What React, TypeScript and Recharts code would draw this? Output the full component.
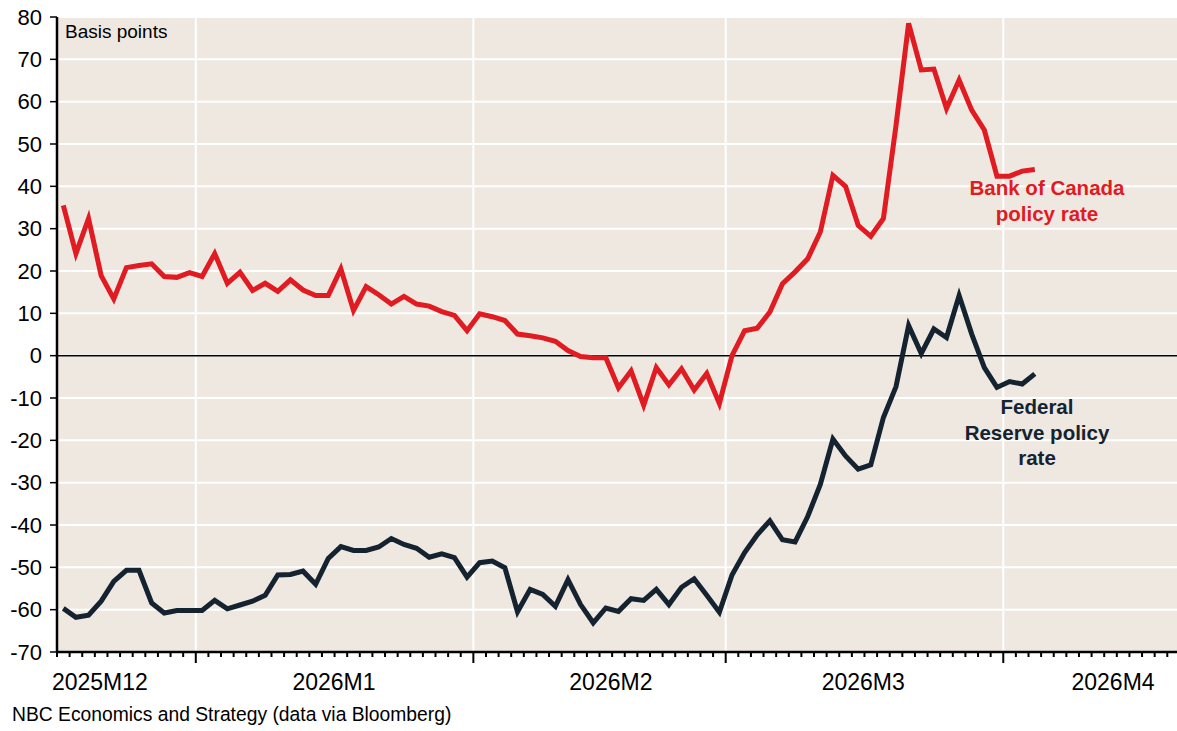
import { LineChart, Line, XAxis, YAxis, CartesianGrid, ReferenceLine } from 'recharts'

// business-day index, 0 = 2025-12-17 ... 77 = 2026-04-03
const bocSpread = [
  35.5, 24.1, 32.4, 18.9, 13.4, 20.8, 21.3, 21.7, 18.7, 18.5,
  19.6, 18.7, 24.1, 17.1, 19.7, 15.4, 17.1, 15.2, 17.9, 15.5,
  14.2, 14.2, 20.5, 10.7, 16.3, 14.4, 12.2, 14.0, 12.2, 11.7,
  10.4, 9.5, 5.9, 9.9, 9.2, 8.3, 5.1, 4.7, 4.2, 3.4,
  1.2, -0.2, -0.5, -0.5, -7.6, -3.6, -11.7, -2.8, -6.9, -3.1,
  -8.1, -4.2, -11.3, 0, 5.9, 6.5, 10.3, 17, 19.8, 22.9,
  29.2, 42.6, 40, 30.8, 28.2, 32.4, 54.4, 78.5, 67.5, 67.7,
  58.4, 65.1, 58, 53.3, 42.4, 42.4, 43.6, 44,
]

const fedSpread = [
  -59.7, -61.8, -61.3, -58, -53.3, -50.7, -50.7, -58.4, -60.8, -60.2,
  -60.2, -60.2, -57.8, -59.8, -58.9, -58, -56.6, -51.8, -51.7, -50.9,
  -54, -47.9, -45.1, -46, -46, -45.2, -43.2, -44.6, -45.5, -47.6,
  -46.8, -47.7, -52.3, -48.9, -48.5, -50.1, -60.5, -55.2, -56.4, -59.2,
  -52.9, -58.8, -63.1, -59.6, -60.4, -57.4, -57.8, -55.2, -58.8, -54.7,
  -52.7, -56.6, -60.6, -51.8, -46.5, -42.3, -39, -43.5, -44, -38,
  -30.4, -19.7, -23.7, -26.8, -25.8, -14.6, -7.3, 7.1, 0.5, 6.3,
  4.3, 14.2, 5.1, -2.8, -7.5, -6.1, -6.7, -4.3,
]

const monthLabels = ['2025M12', '2026M1', '2026M2', '2026M3', '2026M4']
const monthLabelAt = [2.9, 21.45, 43.4, 63.4, 83.2]
const monthBoundaries = [10.5, 32.5, 52.5, 74.5]
const yTicks = [-70, -60, -50, -40, -30, -20, -10, 0, 10, 20, 30, 40, 50, 60, 70, 80]

const RED = '#e11b22'
const NAVY = '#14232f'
const BG = '#eee8e1'
const FONT = '"Liberation Sans", Arial, sans-serif'

const data = bocSpread.map((v, i) => ({ i, boc: v, fed: fedSpread[i] }))
const dayTicks = Array.from({ length: 89 }, (_, k) => k - 0.5)

function XTick(props: any) {
  const { x, y, payload } = props
  const li = monthLabelAt.indexOf(payload.value)
  if (li >= 0) {
    return (
      <text x={x} y={y + 38} textAnchor="middle" fontSize={23} fill="#000" fontFamily={FONT}>
        {monthLabels[li]}
      </text>
    )
  }
  const major = monthBoundaries.includes(payload.value)
  return <line x1={x} x2={x} y1={y} y2={y + (major ? 11 : 5)} stroke="#000" strokeWidth={2} />
}

export default function App() {
  return (
    <div style={{ position: 'absolute', left: 0, top: 0, width: 1177, height: 731, background: '#fff', fontFamily: FONT }}>
      <LineChart width={1177} height={731} data={data} margin={{ top: 17, right: 0, bottom: 0, left: 0 }}>
        <CartesianGrid vertical={false} stroke="#fff" strokeWidth={2} fill={BG} fillOpacity={1} />
        {monthBoundaries.map((b) => (
          <ReferenceLine key={b} x={b} stroke="#fff" strokeWidth={2} />
        ))}
        <ReferenceLine y={0} stroke="#000" strokeWidth={1.5} />
        <XAxis
          dataKey="i"
          type="number"
          domain={[-0.5, 88.27]}
          ticks={[...dayTicks, ...monthLabelAt]}
          interval={0}
          tick={<XTick />}
          tickLine={false}
          tickSize={0}
          tickMargin={0}
          axisLine={{ stroke: '#000', strokeWidth: 2.5 }}
          height={79}
        />
        <YAxis
          type="number"
          domain={[-70, 80]}
          ticks={yTicks}
          interval={0}
          width={57}
          tickSize={7}
          tickMargin={8}
          tickLine={{ stroke: '#000', strokeWidth: 1.5 }}
          axisLine={{ stroke: '#000', strokeWidth: 2.5 }}
          tick={{ fontSize: 22, fill: '#000', fontFamily: FONT }}
        />
        <Line type="linear" dataKey="boc" stroke={RED} strokeWidth={5} dot={false} isAnimationActive={false} />
        <Line type="linear" dataKey="fed" stroke={NAVY} strokeWidth={5} dot={false} isAnimationActive={false} />
      </LineChart>
      <div style={{ position: 'absolute', left: 65, top: 21, fontSize: 19, color: '#000' }}>Basis points</div>
      <div style={{ position: 'absolute', left: 947, top: 175, width: 200, textAlign: 'center', fontSize: 20.5, fontWeight: 'bold', color: RED, lineHeight: '26px' }}>
        Bank of Canada
        <br />
        policy rate
      </div>
      <div style={{ position: 'absolute', left: 937, top: 394, width: 200, textAlign: 'center', fontSize: 20.5, fontWeight: 'bold', color: NAVY, lineHeight: '25.5px' }}>
        Federal
        <br />
        Reserve policy
        <br />
        rate
      </div>
      <div style={{ position: 'absolute', left: 12, top: 704, fontSize: 19.3, color: '#000' }}>
        NBC Economics and Strategy (data via Bloomberg)
      </div>
    </div>
  )
}
